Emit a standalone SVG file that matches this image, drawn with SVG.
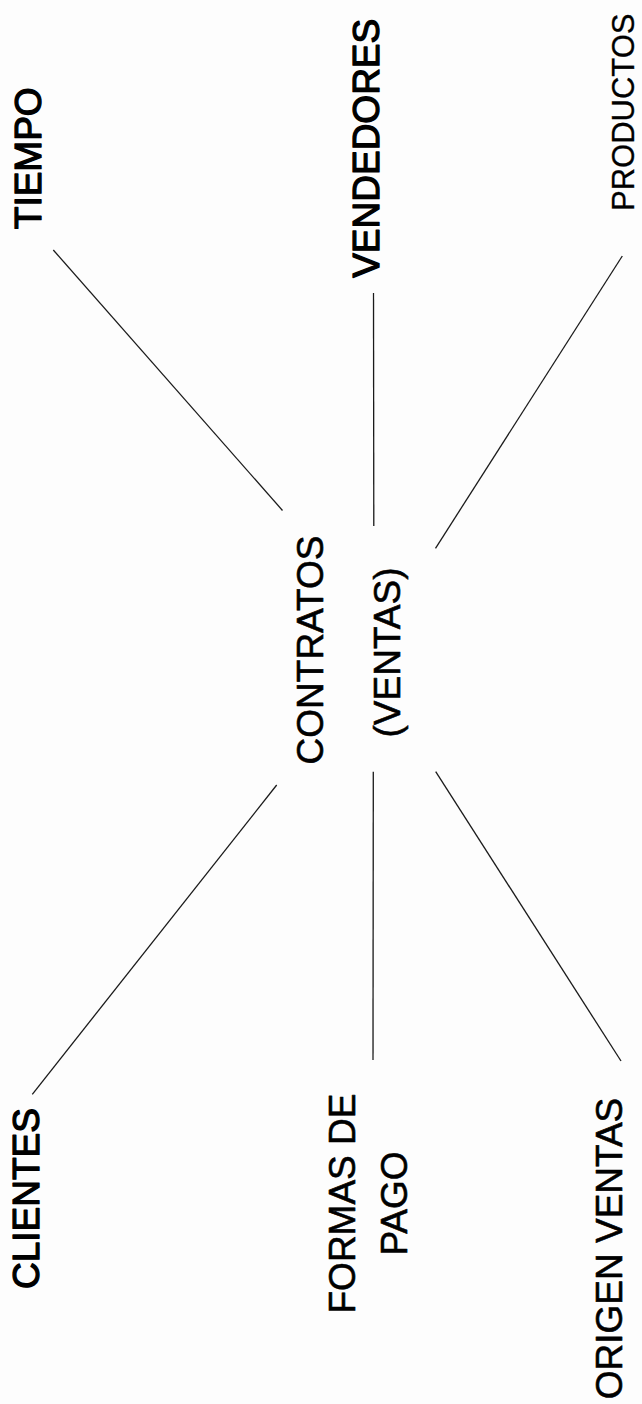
<svg xmlns="http://www.w3.org/2000/svg" width="642" height="1404" viewBox="0 0 642 1404">
<style>
.t{font-family:"Liberation Sans",Arial,sans-serif;font-size:37px;fill:#000;text-anchor:middle;stroke:#000;stroke-width:0.6;stroke-linejoin:round}
.b{stroke-width:1.3}
.l{stroke-width:0.3}
.c line{stroke:#1a1a1a;stroke-width:1.3;fill:none}
</style>
<rect width="642" height="1404" fill="#fdfdfd"/>
<g class="c" id="connectors">
<line x1="53.3" y1="250" x2="282.5" y2="510.5"/>
<line x1="373.5" y1="293" x2="373.8" y2="526"/>
<line x1="622.3" y1="256" x2="435.5" y2="548.3"/>
<line x1="276.7" y1="785" x2="32.3" y2="1094.3"/>
<line x1="373.3" y1="771.7" x2="373" y2="1060"/>
<line x1="435.7" y1="771.7" x2="621" y2="1061"/>
</g>
<g id="n-tiempo"><text class="t b" transform="translate(40.5,158.3) rotate(-90)">TIEMPO</text></g>
<g id="n-vendedores"><text class="t b" transform="translate(379.3,148.3) rotate(-90)">VENDEDORES</text></g>
<g id="n-productos"><text class="t l" style="font-size:31px" transform="translate(634,112.3) rotate(-90)">PRODUCTOS</text></g>
<g id="n-contratos">
<text class="t" transform="translate(323,650) rotate(-90)">CONTRATOS</text>
<text class="t" transform="translate(400,652.5) rotate(-90)">(VENTAS)</text>
</g>
<g id="n-clientes"><text class="t b" transform="translate(38.5,1198.5) rotate(-90)">CLIENTES</text></g>
<g id="n-formas">
<text class="t" transform="translate(355,1203.5) rotate(-90)">FORMAS DE</text>
<text class="t" transform="translate(406.5,1203.5) rotate(-90)">PAGO</text>
</g>
<g id="n-origen"><text class="t" transform="translate(622,1248.5) rotate(-90)">ORIGEN VENTAS</text></g>
</svg>
